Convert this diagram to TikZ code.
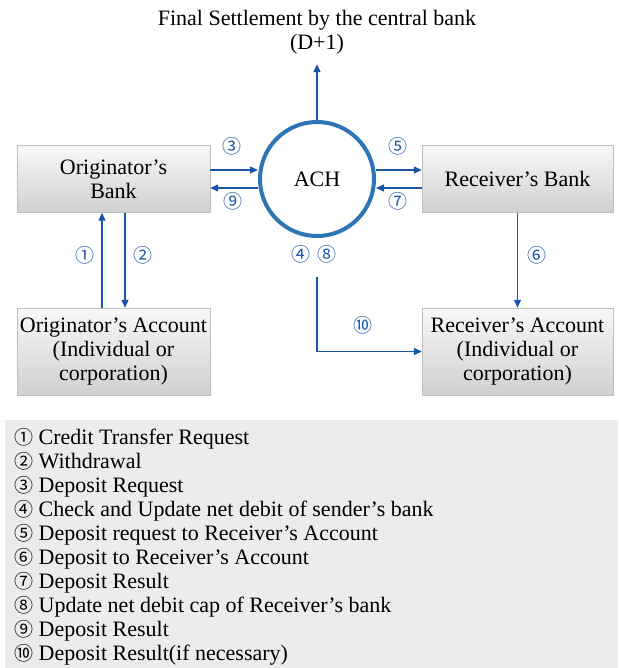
\documentclass[tikz,border=0pt]{standalone}
\usepackage{fontspec}
\setmainfont{Liberation Serif}
\newfontfamily\circfont{Noto Sans CJK JP}
\usetikzlibrary{arrows.meta}
\definecolor{achblue}{RGB}{46,117,182}
\definecolor{flowblue}{RGB}{25,85,170}
\definecolor{boxtop}{RGB}{248,248,248}
\definecolor{boxbot}{RGB}{208,208,208}
\definecolor{boxline}{RGB}{190,190,190}
\definecolor{legendbg}{RGB}{236,236,236}
\newcommand{\cn}[1]{{\circfont\fontsize{19}{24}\selectfont #1}}

\begin{document}
\begin{tikzpicture}[x=1pt,y=1pt]
\tikzstyle{every node}+=[inner sep=0pt, font=\fontsize{22}{24}\selectfont]
\tikzstyle{box}=[rectangle, draw=boxline, top color=boxtop, bottom color=boxbot, align=center]
\tikzstyle{flow}=[draw=flowblue, line width=1.3pt, -{Triangle[length=8pt,width=7pt]}]
\tikzstyle{num}=[text=flowblue, font=\circfont\fontsize{19}{19}\selectfont]
\useasboundingbox (0,0) rectangle (618,-668);
% title and clearing house
\node[align=center] (title) at (317,-32) {Final Settlement by the central bank\\(D+1)};
\node[circle, draw=achblue, line width=4pt, fill=white, minimum size=114pt] (ach) at (317,-179) {ACH};
% banks and accounts
\node[box, minimum width=193pt, minimum height=67pt] (obank) at (113.5,-179) {Originator’s\\Bank};
\node[box, minimum width=191pt, minimum height=67pt] (rbank) at (517.5,-179) {Receiver’s Bank};
\node[box, minimum width=193pt, minimum height=87pt] (oacct) at (113.5,-351.5) {Originator’s Account\\(Individual or\\corporation)};
\node[box, minimum width=191pt, minimum height=87pt] (racct) at (517.5,-351.5) {Receiver’s Account\\(Individual or\\corporation)};
% flows
\draw[flow] (ach.north) -- ([yshift=-10pt]title.south);
\draw[flow] ([yshift=9pt]obank.east) -- ([yshift=9pt]obank.east -| ach.west);
\draw[flow] ([yshift=-9pt]obank.east -| ach.west) -- ([yshift=-9pt]obank.east);
\draw[flow] ([yshift=9pt]rbank.west -| ach.east) -- ([yshift=9pt]rbank.west);
\draw[flow] ([yshift=-9pt]rbank.west) -- ([yshift=-9pt]rbank.west -| ach.east);
\draw[flow] ([xshift=-11.5pt]oacct.north) -- ([xshift=-11.5pt]oacct.north |- obank.south);
\draw[flow] ([xshift=11.5pt]oacct.north |- obank.south) -- ([xshift=11.5pt]oacct.north);
\draw[flow] (rbank.south) -- (racct.north);
\coordinate (c10) at ([yshift=-39pt]ach.south);
\draw[flow] (c10) |- (racct.west);
% step numbers
\node[num] (n1) at (85,-255) {①};
\node[num] (n2) at (143,-255) {②};
\node[num] (n3) at (232,-146) {③};
\node[num] (n48) at (314,-254) {④\hspace{7pt}⑧};
\node[num] (n5) at (398,-146) {⑤};
\node[num] (n6) at (537,-255) {⑥};
\node[num] (n7) at (398,-201) {⑦};
\node[num] (n9) at (233,-201) {⑨};
\node[num] (n10) at (363,-325) {⑩};
% legend
\fill[legendbg] (5,-420) rectangle (618,-668);
\node[anchor=north west, align=left] (legend) at (14,-428) {\cn{①} Credit Transfer Request\\
\cn{②} Withdrawal\\
\cn{③} Deposit Request\\
\cn{④} Check and Update net debit of sender’s bank\\
\cn{⑤} Deposit request to Receiver’s Account\\
\cn{⑥} Deposit to Receiver’s Account\\
\cn{⑦} Deposit Result\\
\cn{⑧} Update net debit cap of Receiver’s bank\\
\cn{⑨} Deposit Result\\
\cn{⑩} Deposit Result(if necessary)};
\end{tikzpicture}
\end{document}
